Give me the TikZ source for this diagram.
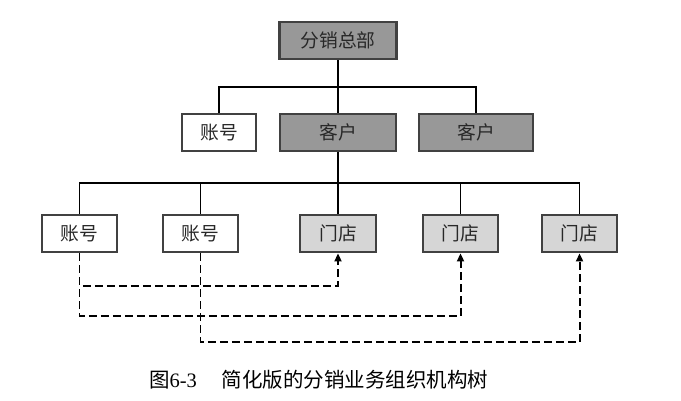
\documentclass[tikz,border=0pt]{standalone}
\usepackage{fontspec}
\setmainfont{Liberation Serif}
\newfontfamily\cjk{Noto Sans CJK SC}
\usepackage{xcolor}
\usetikzlibrary{arrows.meta}
\definecolor{darkfill}{RGB}{152,152,152}
\definecolor{lightfill}{RGB}{214,214,214}
\definecolor{edgegray}{RGB}{65,65,65}
\definecolor{textgray}{RGB}{40,40,40}

\begin{document}
\begin{tikzpicture}[
		x=0.03cm,
		y=-0.03cm,
		font=\cjk\fontsize{16}{18}\selectfont,
		box/.style={
			draw=edgegray,
			line width=1.9pt,
			fill=white,
			text=textgray,
			minimum height=1.13cm,
			inner sep=0pt
		},
		dark/.style={box, fill=darkfill},
		light/.style={box, fill=lightfill},
		tree/.style={line width=1.6pt, draw=black},
		link/.style={line width=1.7pt, draw=black, dash pattern=on 2.3mm off 1.3mm,
			-{Triangle[length=2.4mm,width=2.1mm]}},
		caption/.style={font=\cjk\fontsize{17.5}{20}\selectfont, text=black}
	]
	
	% Canvas
	\path[draw=none] (0,0) rectangle (681,401);
	
	% Top
	\node[dark, minimum width=3.51cm] (hq) at (338,40.5) {分销总部};
	
	% Second row
	\node[box, minimum width=2.22cm] (acct0) at (219,132.5) {账号};
	\node[dark, minimum width=3.48cm] (cust1) at (338,132.5) {客户};
	\node[dark, minimum width=3.42cm] (cust2) at (476,132.5) {客户};
	
	% Third row
	\node[box, minimum width=2.25cm] (acct1) at (79.5,233.5) {账号};
	\node[box, minimum width=2.25cm] (acct2) at (200.5,233.5) {账号};
	\node[light, minimum width=2.28cm] (store1) at (338,233.5) {门店};
	\node[light, minimum width=2.25cm] (store2) at (460.5,233.5) {门店};
	\node[light, minimum width=2.25cm] (store3) at (579.5,233.5) {门店};
	
	% Tree lines
	\coordinate (bus1) at (338,87);
	\coordinate (bus2) at (338,183);
	\draw[tree] (hq.south) -- (bus1);
	\draw[tree] (bus1) -- (cust1.north);
	\draw[tree] (acct0.north) |- (bus1) -| (cust2.north);
	\draw[tree] (cust1.south) -- (bus2);
	\draw[tree] (acct1.north) |- (bus2) -| (store3.north);
	\foreach \n in {acct2,store1,store2}{
		\draw[tree] (\n.north) -- (\n.north |- bus2);
	}
	
	% Dashed links
	\coordinate (d1) at (0,286);
	\coordinate (d2) at (0,316);
	\coordinate (d3) at (0,342);
	\draw[link] (acct1.south) -- (acct1.south |- d1) -| (store1.south);
	\draw[link] (acct1.south) -- (acct1.south |- d2) -| (store2.south);
	\draw[link] (acct2.south) -- (acct2.south |- d3) -| (store3.south);
	
	% Caption
	\node[caption, anchor=west] (cap) at (145,380) {图{\rmfamily 6-3}\hspace{1.2em}简化版的分销业务组织机构树};
	
\end{tikzpicture}
\end{document}
